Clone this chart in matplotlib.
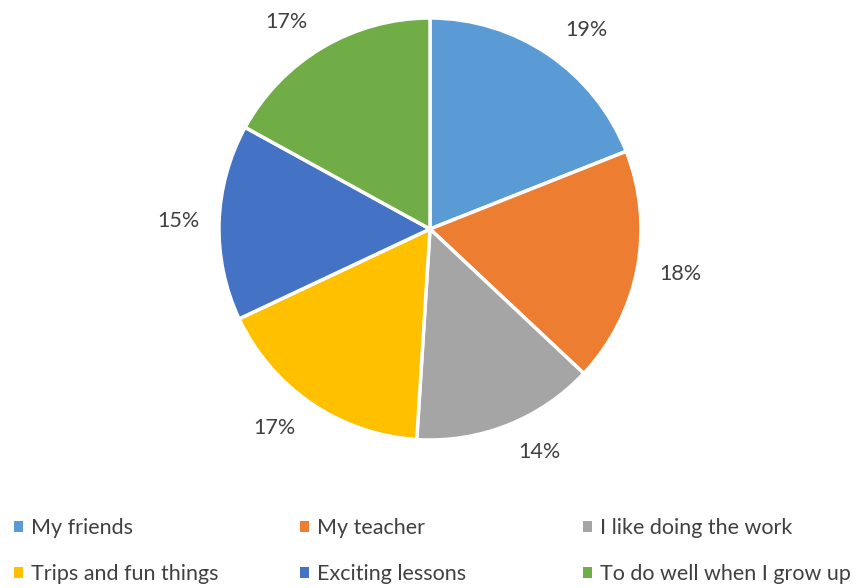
import numpy as np
import matplotlib
matplotlib.use("Agg")
import matplotlib.pyplot as plt
from matplotlib.patches import Patch

categories = ["My friends", "My teacher", "I like doing the work",
              "Trips and fun things", "Exciting lessons", "To do well when I grow up"]
shares = [19, 18, 14, 17, 15, 17]
colors = ["#5B9BD5", "#ED7D31", "#A5A5A5", "#FFC000", "#4472C4", "#70AD47"]

plt.rcParams["font.family"] = ["Lato", "DejaVu Sans"]
text_color = "#404040"

W, H = 861, 588
fig = plt.figure(figsize=(W / 100, H / 100), dpi=100)

# pie centre and radius in pixels
cx, cy, r = 430, 229, 211
ax = fig.add_axes([(cx - r) / W, (H - cy - r) / H, 2 * r / W, 2 * r / H])
wedges, _ = ax.pie(shares, colors=colors, startangle=90, counterclock=False,
                   wedgeprops=dict(edgecolor="white", linewidth=2.5))
ax.set_xlim(-1, 1)
ax.set_ylim(-1, 1)
ax.set_aspect("equal")

# outside-end labels, roughly like Excel places them
for w, v in zip(wedges, shares):
    th = np.deg2rad((w.theta1 + w.theta2) / 2)
    c, s = np.cos(th), np.sin(th)
    x = 1.095 * c + 0.095 * c + np.sign(c) * abs(s) * 0.085
    y = 1.095 * s + 0.043 * s
    ax.text(x, y, f"{v}%", ha="center", va="center",
            fontsize=15.5, color=text_color)

# legend: 3 columns, 2 rows, filled row by row
col_x = [14, 300, 583]
row_y = [528, 574]
for i, (cat, col) in enumerate(zip(categories, colors)):
    px = col_x[i % 3]
    py = row_y[i // 3]
    fig.legend([Patch(facecolor=col, edgecolor="none")], [cat],
               loc="center left", bbox_to_anchor=(px / W, 1 - py / H),
               frameon=False, fontsize=15.5, labelcolor=text_color,
               borderpad=0, borderaxespad=0,
               handlelength=0.42, handleheight=0.42, handletextpad=0.37)

fig.savefig("out.png", dpi=100)
